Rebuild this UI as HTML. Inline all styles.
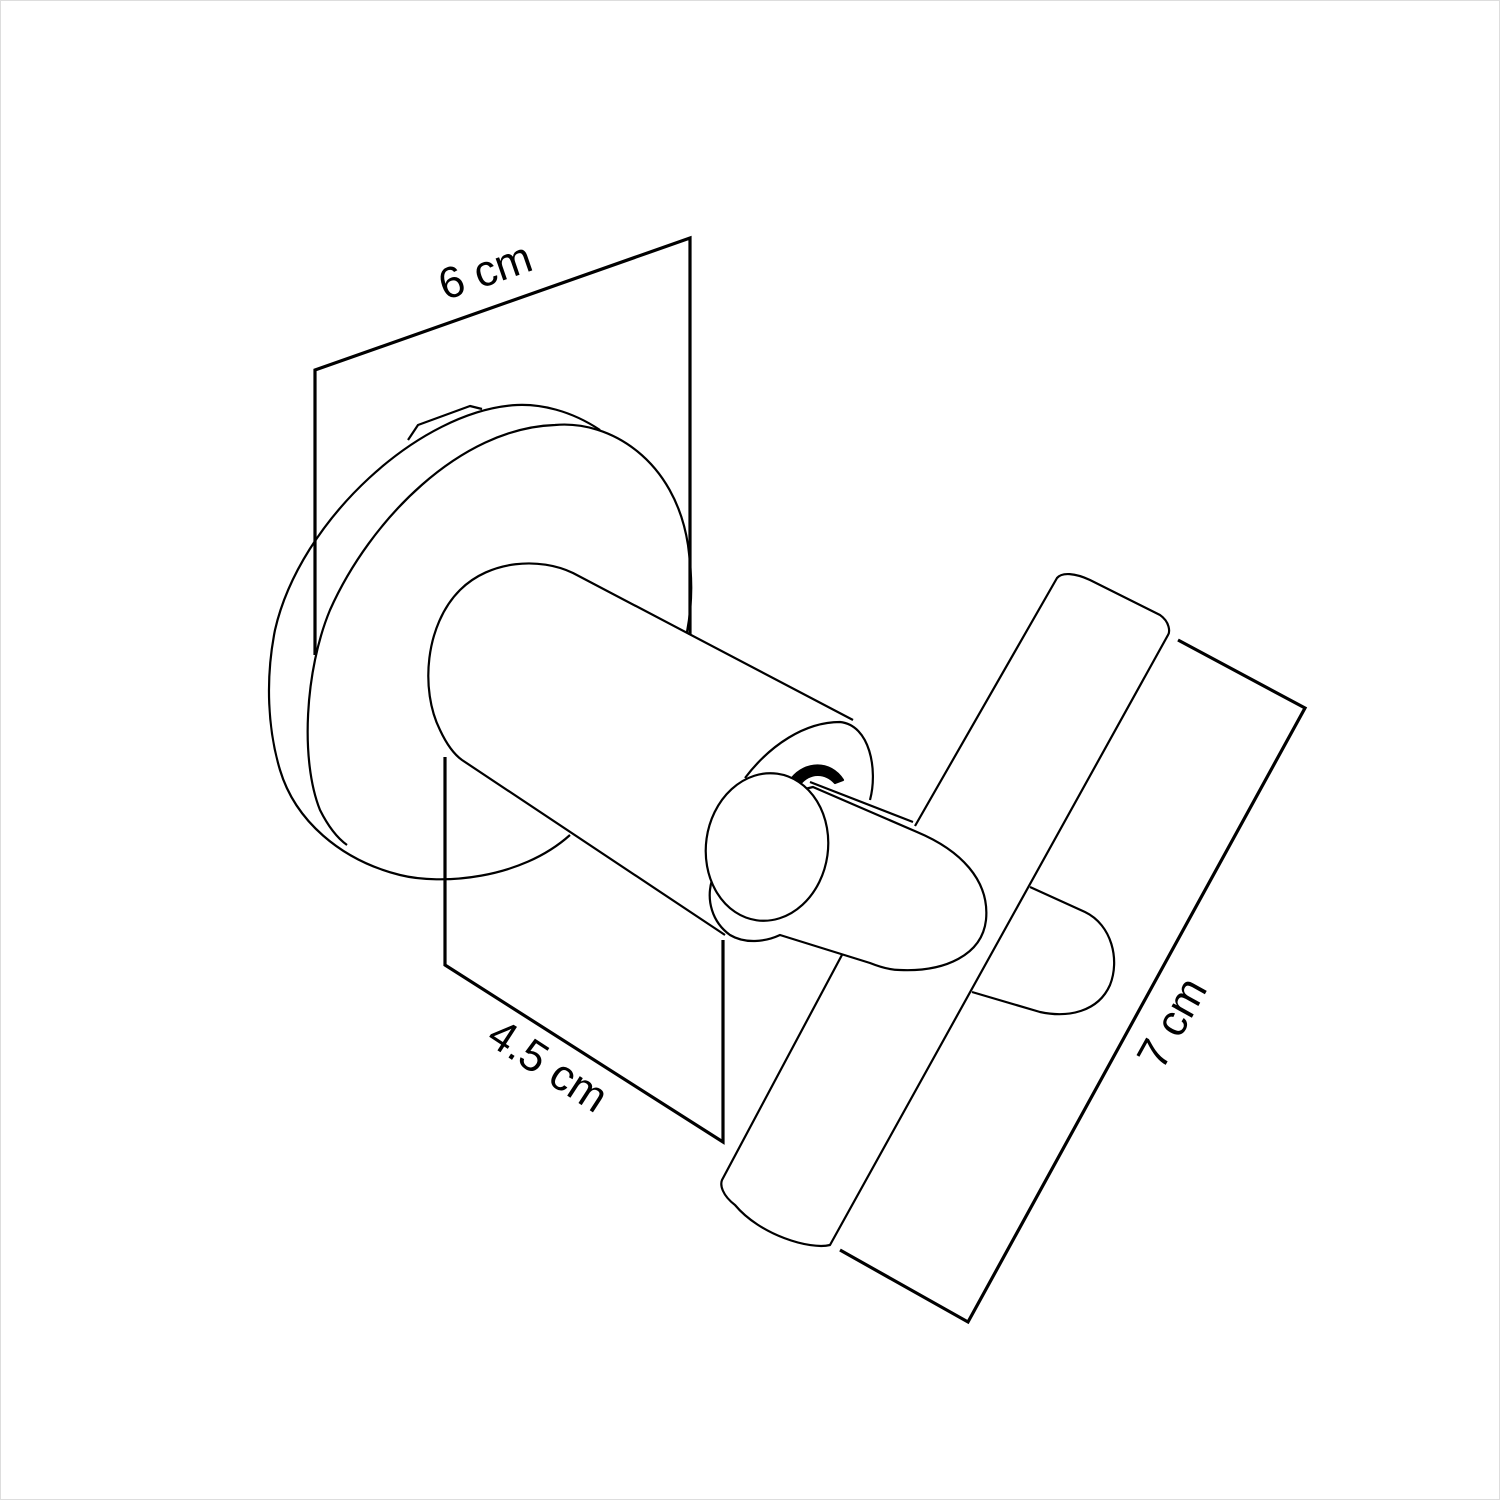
<!DOCTYPE html>
<html><head><style>
html,body{margin:0;padding:0;background:#fff}
svg{display:block}
text{font-family:"Liberation Sans",sans-serif;font-size:44px;fill:#000}
</style></head><body>
<svg width="1500" height="1500" viewBox="0 0 1500 1500">
<rect x="0.5" y="0.5" width="1499" height="1499" fill="none" stroke="#ddd" stroke-width="1"/>
<g fill="none" stroke="#000" stroke-width="2.2" stroke-linejoin="round">
<path d="M600,430 C570,410 540,404 517,405 C420,410 300,520 275,630 C265,680 268,730 280,770 C295,820 340,860 400,875 C440,885 520,880 570,835"/>
<path d="M408,440 L418,425 L470,406 L482,409"/>
<path d="M687,632 C693,600 692,575 688,545 C675,460 610,420 555,425 C460,428 370,520 330,610 C305,670 300,760 320,810 C330,830 340,840 347,845"/>
<path fill="#fff" d="M853,720 L573,573 C540,557 490,560 460,590 C425,625 420,690 440,730 C447,745 455,755 462,760 L725,935 L800,800 Z" stroke="none"/>
<path d="M853,720 L573,573 C540,557 490,560 460,590 C425,625 420,690 440,730 C447,745 455,755 462,760 L725,935"/>
<path d="M745,778 C770,745 805,722 840,722 C870,725 878,770 870,800"/>
<path d="M792,778 C805,762 830,760 843,780 L835,783 C825,772 810,772 800,784 Z" fill="#000"/>
<path fill="#fff" d="M1030,887 L1085,912 C1112,925 1120,960 1110,985 C1098,1012 1068,1018 1040,1012 L972,992 Z" stroke="none"/>
<path d="M1030,887 L1085,912 C1112,925 1120,960 1110,985 C1098,1012 1068,1018 1040,1012 L972,992"/>
<path fill="#fff" stroke="none" d="M1057,578 C1062,572 1075,573 1090,580 L1160,615 C1170,622 1170,632 1168,635 L830,1245 C810,1250 760,1235 735,1205 C722,1195 720,1185 722,1180 Z"/>
<path d="M915,826 L1057,578 C1062,572 1075,573 1090,580 L1160,615 C1170,622 1170,632 1168,635 L830,1245 C810,1250 760,1235 735,1205 C722,1195 720,1185 722,1180 L843,953"/>
<path fill="#fff" d="M813,787 L917,832 C960,850 990,880 986,920 C982,955 945,972 900,970 C890,970 880,967 870,963 L780,935 C765,942 745,944 730,935 C712,922 706,900 712,880 L760,800 Z"/>
<path d="M810,782 L913,822"/>
<ellipse cx="767" cy="847" rx="61" ry="74" transform="rotate(8 767 847)" fill="#fff"/>
</g>
<g fill="none" stroke="#000" stroke-width="3.2">
<polyline points="315,655 315,370 690,238 690,635"/>
<polyline points="445,757 445,965 723,1142 723,940"/>
<polyline points="1178,640 1305,708 968,1322 840,1250"/>
</g>
<text transform="translate(490,285) rotate(-19)" text-anchor="middle">6 cm</text>
<text transform="translate(540,1078) rotate(33)" text-anchor="middle">4.5 cm</text>
<text transform="translate(1185,1030) rotate(-61)" text-anchor="middle">7 cm</text>
</svg>
</body></html>
